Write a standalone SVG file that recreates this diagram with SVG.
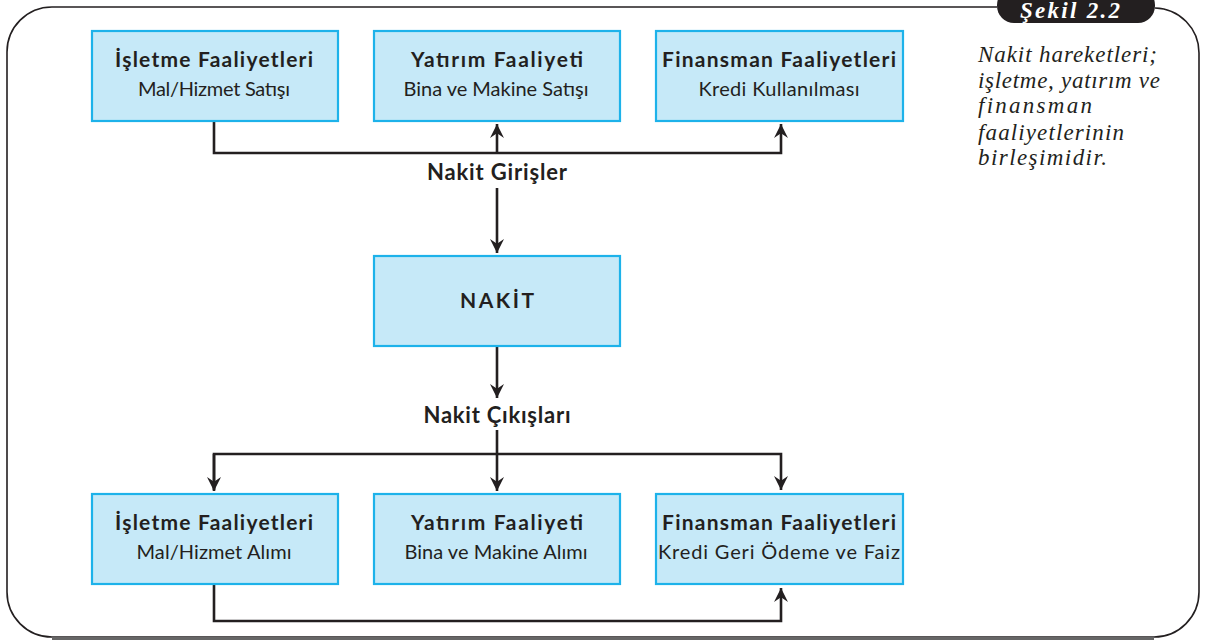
<svg xmlns="http://www.w3.org/2000/svg" width="1208" height="643" viewBox="0 0 1208 643">
<style>
.box{fill:#C6E9F8;stroke:#1DB2EA;stroke-width:2.2}
.t{font-family:Lato,"Liberation Sans",sans-serif;fill:#231F20;text-anchor:middle}
.b{font-weight:bold;font-size:21px}
.r{font-size:20px}
.lbl{font-family:Lato,"Liberation Sans",sans-serif;font-weight:bold;font-size:22px;fill:#231F20;text-anchor:middle}
.con{fill:none;stroke:#231F20;stroke-width:2.6;stroke-linejoin:miter}
.cap{font-family:"Liberation Serif",serif;font-style:italic;font-size:23px;fill:#231F20}
</style>
<defs>
<marker id="arr" viewBox="0 0 12 12" refX="12" refY="6" markerWidth="14" markerHeight="14" orient="auto" markerUnits="userSpaceOnUse">
<path d="M0,0 L12,6 L0,12 L4,6 Z" fill="#231F20"/>
</marker>
</defs>
<rect width="1208" height="643" fill="#fff"/>
<g id="frame">
<path d="M997,7 L52,7 A45,45 0 0 0 7,52 L7,592 A45,45 0 0 0 52,637 L1154,637 A45,45 0 0 0 1199,592 L1199,53 A45,45 0 0 0 1155,8" fill="none" stroke="#231F20" stroke-width="1.6"/>
<path d="M52,638.5 L1154,638.5" stroke="#666" stroke-width="3" fill="none"/>
<rect x="997" y="-12" width="158" height="35" rx="17" fill="#231F20"/>
<text x="1070" y="18" font-family="'Liberation Serif',serif" font-style="italic" font-weight="bold" font-size="23" fill="#fff" text-anchor="middle" textLength="100" lengthAdjust="spacing">Şekil 2.2</text>
</g>
<g id="caption" class="cap">
<text x="978" y="62" textLength="179" lengthAdjust="spacing">Nakit hareketleri;</text>
<text x="978" y="88" textLength="182" lengthAdjust="spacing">işletme, yatırım ve</text>
<text x="978" y="113" textLength="114" lengthAdjust="spacing">finansman</text>
<text x="978" y="140" textLength="146" lengthAdjust="spacing">faaliyetlerinin</text>
<text x="978" y="165" textLength="129" lengthAdjust="spacing">birleşimidir.</text>
</g>
<g id="connectors" class="con">
<path d="M214,121 L214,153 L781,153 L781,124" marker-end="url(#arr)"/>
<path d="M497,153 L497,124" marker-end="url(#arr)"/>
<path d="M497,188 L497,253" marker-end="url(#arr)"/>
<path d="M497,346 L497,398" marker-end="url(#arr)"/>
<path d="M214,490 L214,454 L781,454 L781,490" marker-end="url(#arr)"/>
<path d="M214,454 L214,491" marker-end="url(#arr)"/>
<path d="M497,430 L497,491" marker-end="url(#arr)"/>
<path d="M214,584 L214,621 L781,621 L781,588" marker-end="url(#arr)"/>
</g>
<g id="lbl-girisler"><text class="lbl" x="497" y="180" textLength="140" lengthAdjust="spacing">Nakit Girişler</text></g>
<g id="lbl-cikislar"><text class="lbl" x="497" y="423" textLength="147" lengthAdjust="spacing">Nakit Çıkışları</text></g>
<g id="n1"><rect class="box" x="92" y="31" width="246" height="90"/><text class="t b" x="214" y="67" textLength="198" lengthAdjust="spacing">İşletme Faaliyetleri</text><text class="t r" x="214" y="96" textLength="152" lengthAdjust="spacing">Mal/Hizmet Satışı</text></g>
<g id="n2"><rect class="box" x="374" y="31" width="246" height="90"/><text class="t b" x="497" y="67" textLength="172" lengthAdjust="spacing">Yatırım Faaliyeti</text><text class="t r" x="496" y="96" textLength="185" lengthAdjust="spacing">Bina ve Makine Satışı</text></g>
<g id="n3"><rect class="box" x="656" y="31" width="247" height="90"/><text class="t b" x="779" y="67" textLength="234" lengthAdjust="spacing">Finansman Faaliyetleri</text><text class="t r" x="779" y="96" textLength="161" lengthAdjust="spacing">Kredi Kullanılması</text></g>
<g id="nakit"><rect class="box" x="374" y="256" width="246" height="90"/><text class="t b" x="497" y="308" font-size="22" textLength="74" lengthAdjust="spacing">NAKİT</text></g>
<g id="n4"><rect class="box" x="92" y="494" width="246" height="90"/><text class="t b" x="214" y="530" textLength="198" lengthAdjust="spacing">İşletme Faaliyetleri</text><text class="t r" x="214" y="559" textLength="155" lengthAdjust="spacing">Mal/Hizmet Alımı</text></g>
<g id="n5"><rect class="box" x="374" y="494" width="246" height="90"/><text class="t b" x="497" y="530" textLength="172" lengthAdjust="spacing">Yatırım Faaliyeti</text><text class="t r" x="496" y="559" textLength="183" lengthAdjust="spacing">Bina ve Makine Alımı</text></g>
<g id="n6"><rect class="box" x="656" y="494" width="247" height="90"/><text class="t b" x="779" y="530" textLength="234" lengthAdjust="spacing">Finansman Faaliyetleri</text><text class="t r" x="779" y="559" textLength="242" lengthAdjust="spacing">Kredi Geri Ödeme ve Faiz</text></g>
</svg>
